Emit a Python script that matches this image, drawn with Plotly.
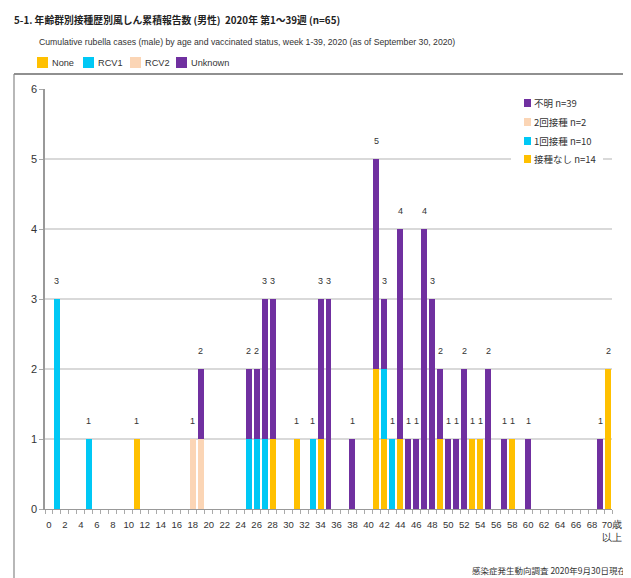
import plotly.graph_objects as go

ages = list(range(0, 71))
# counts per age (index = age, 70 = 70歳以上)
none_vals = {11: 1, 28: 1, 31: 1, 34: 1, 41: 2, 42: 1, 44: 1, 49: 1, 53: 1, 54: 1, 58: 1, 70: 2}
rcv1_vals = {1: 3, 5: 1, 25: 1, 26: 1, 27: 1, 33: 1, 42: 1, 43: 1}
rcv2_vals = {18: 1, 19: 1}
unknown_vals = {19: 1, 25: 1, 26: 1, 27: 2, 28: 2, 34: 2, 35: 3, 38: 1, 41: 3, 42: 1,
                44: 3, 45: 1, 46: 1, 47: 4, 48: 3, 49: 1, 50: 1, 51: 1, 52: 2, 55: 2,
                57: 1, 60: 1, 69: 1}

series_names = ["None", "RCV1", "RCV2", "Unknown"]
series_jp = ["接種なし", "1回接種", "2回接種", "不明"]
series_data = [none_vals, rcv1_vals, rcv2_vals, unknown_vals]
colors = ["#FFC000", "#00C8F5", "#FBD5B5", "#7030A0"]

tick_vals = list(range(0, 71, 2))
tick_text = [str(v) for v in tick_vals[:-1]] + ["&nbsp;&nbsp;&nbsp;70歳<br>&nbsp;&nbsp;&nbsp;以上"]

TXT = "Liberation Sans, Arial, sans-serif"
JP = "Noto Sans CJK JP, sans-serif"

# page offset (body margin) and screen-pixel helpers
OFF = 8
W, H = 631 - OFF, 578 - OFF
L, R, T, B = 45, 612, 89, 509  # plot area in screen pixels
def px(x):
    return (x - L) / (R - L)
def py(y):
    return (B - y) / (B - T)

fig = go.Figure()
for name, data, col in zip(series_names, series_data, colors):
    fig.add_trace(go.Bar(
        x=ages, y=[data.get(a, 0) for a in ages], name=name,
        marker=dict(color=col, line=dict(width=0)), showlegend=False,
        hovertemplate=name + " age %{x}: %{y}<extra></extra>"))

totals = [sum(d.get(a, 0) for d in series_data) for a in ages]
annotations = []
for a, t in zip(ages, totals):
    if t > 0:
        annotations.append(dict(x=a, y=t, xref="x", yref="y", text=str(t), showarrow=False,
                                yanchor="middle", yshift=18,
                                font=dict(size=9, color="#333333", family=TXT)))

shapes = []
# outer frame
shapes.append(dict(type="line", xref="paper", yref="paper", x0=px(14), x1=px(640), y0=py(74), y1=py(74),
                   line=dict(color="#222222", width=1.2)))
shapes.append(dict(type="line", xref="paper", yref="paper", x0=px(14), x1=px(14), y0=py(74), y1=py(590),
                   line=dict(color="#888888", width=1.2)))

# top legend (English)
top_leg_x = [37, 83, 130, 176]
for i, (name, col) in enumerate(zip(series_names, colors)):
    x0 = top_leg_x[i]
    shapes.append(dict(type="rect", xref="paper", yref="paper", x0=px(x0), x1=px(x0 + 11),
                       y0=py(68), y1=py(57), fillcolor=col, line=dict(width=0)))
    annotations.append(dict(x=px(x0 + 13), y=py(63), xref="paper", yref="paper", text=name,
                            showarrow=False, xanchor="left", yanchor="middle",
                            font=dict(size=9.2, color="#333333", family=TXT)))

# inner legend (Japanese), reversed order
shapes.append(dict(type="rect", xref="paper", yref="paper", x0=px(511), x1=px(603), y0=py(168), y1=py(93),
                   fillcolor="white", line=dict(width=0), layer="above"))
counts = [sum(d.values()) for d in series_data]
leg_y = [103, 122, 141, 159]
for j, i in enumerate([3, 2, 1, 0]):
    yc = leg_y[j]
    shapes.append(dict(type="rect", xref="paper", yref="paper", x0=px(524), x1=px(531),
                       y0=py(yc + 4), y1=py(yc - 4), fillcolor=colors[i], line=dict(width=0), layer="above"))
    annotations.append(dict(x=px(532), y=py(yc), xref="paper", yref="paper",
                            text=f"{series_jp[i]} n={counts[i]}", showarrow=False,
                            xanchor="left", yanchor="middle",
                            font=dict(size=9.5, color="#333333", family=JP)))

# titles
annotations.append(dict(x=px(12), y=py(20), xref="paper", yref="paper",
                        text="<b>5-1. 年齢群別接種歴別風しん累積報告数 (男性)  2020年 第1～39週 (n=65)</b>",
                        showarrow=False, xanchor="left", yanchor="middle",
                        font=dict(size=9.8, color="#222222", family=JP)))
annotations.append(dict(x=px(37), y=py(42), xref="paper", yref="paper",
                        text="Cumulative rubella cases (male) by age and vaccinated status, week 1-39, 2020 (as of September 30, 2020)",
                        showarrow=False, xanchor="left", yanchor="middle",
                        font=dict(size=8.7, color="#333333", family=TXT)))
annotations.append(dict(x=px(628), y=py(570), xref="paper", yref="paper",
                        text="感染症発生動向調査 2020年9月30日現在",
                        showarrow=False, xanchor="right", yanchor="middle",
                        font=dict(size=8.5, color="#333333", family=JP)))

fig.update_layout(
    width=W, height=H, barmode="stack", bargap=0.25,
    margin=dict(l=L - OFF, r=(631 - R), t=T - OFF, b=(578 - B), pad=0, autoexpand=False),
    plot_bgcolor="white", paper_bgcolor="white",
    shapes=shapes, annotations=annotations,
    font=dict(family=TXT, color="#333333"),
    xaxis=dict(range=[-0.5, 70.5], tickmode="array", tickvals=tick_vals, ticktext=tick_text,
               tickangle=0, ticklabelstandoff=7, automargin=False,
               showgrid=False, zeroline=False, showline=True, linecolor="#999999", linewidth=1,
               ticks="outside", ticklen=0, tickcolor="#999999",
               minor=dict(tickmode="linear", tick0=0.5, dtick=1, ticklen=4, ticks="outside",
                          tickcolor="#aaaaaa", showgrid=False),
               tickfont=dict(size=9.5, color="#333333", family=TXT), fixedrange=True),
    yaxis=dict(range=[0, 6], dtick=1, showgrid=True, gridcolor="#d9d9d9", gridwidth=1.5,
               zeroline=False, showline=True, linecolor="#999999", linewidth=1.5,
               ticks="outside", ticklen=4, tickcolor="#aaaaaa", automargin=False,
               tickfont=dict(size=11, color="#333333", family=TXT), fixedrange=True),
)

fig.write_html("out.html")
